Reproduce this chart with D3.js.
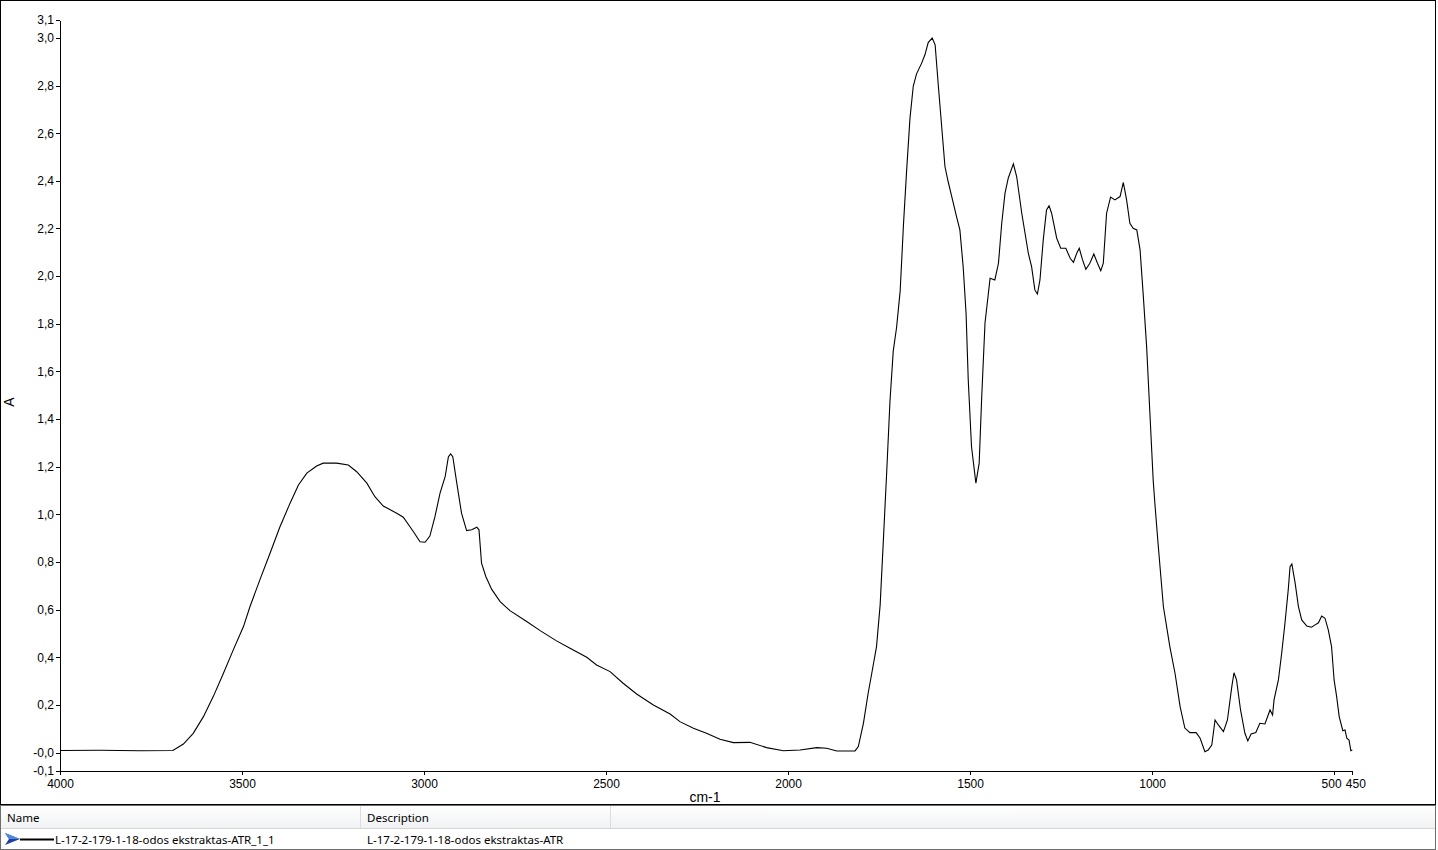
<!DOCTYPE html>
<html>
<head>
<meta charset="utf-8">
<script src="https://cdn.jsdelivr.net/npm/d3@7/dist/d3.min.js"></script>
<style>
  html, body { margin: 0; padding: 0; background: #fff; }
  svg { display: block; }
  .tick text { font-family: "Liberation Sans", Arial, sans-serif; font-size: 12px; fill: #000; }
  .panel text { font-family: "Noto Sans", "Open Sans", sans-serif; font-size: 11.5px; fill: #000; }
</style>
</head>
<body>
<svg id="chart" width="1438" height="850"></svg>
<script>
// ---- data (wavenumber cm-1, absorbance A) ----
const wavenumbers = [4000,3890,3780,3690,3661,3634,3606,3579,3551,3524,3496,3478,3451,3423,3396,3368,3345,3322,3295,3277,3240,3208,3185,3157,3135,3112,3075,3057,3029,3011,2997,2984,2970,2956,2942,2933,2927,2921,2910,2897,2883,2869,2855,2849,2842,2830,2814,2791,2764,2718,2681,2636,2599,2553,2526,2489,2453,2416,2370,2324,2297,2260,2224,2187,2150,2105,2059,2013,1967,1921,1894,1866,1816,1807,1793,1780,1770,1757,1747,1738,1729,1720,1711,1702,1692,1683,1674,1665,1656,1647,1633,1624,1615,1604,1596,1587,1578,1569,1560,1550,1537,1528,1519,1511,1505,1496,1484,1475,1468,1459,1445,1432,1422,1413,1404,1395,1381,1372,1358,1340,1331,1322,1315,1308,1299,1290,1283,1276,1262,1251,1237,1225,1216,1207,1200,1191,1182,1171,1160,1150,1141,1134,1125,1114,1102,1088,1079,1070,1061,1052,1042,1033,1024,1015,1006,997,992,983,969,951,937,923,910,896,879,868,855,846,836,827,818,804,793,781,775,768,757,745,737,728,715,704,690,676,669,665,653,644,635,626,621,616,607,598,589,575,562,552,543,534,525,516,507,500,493,486,476,470,465,459,454,450];
const absorbance = [0.009,0.010,0.008,0.009,0.036,0.081,0.151,0.235,0.333,0.431,0.529,0.613,0.725,0.837,0.947,1.047,1.123,1.173,1.203,1.215,1.215,1.207,1.179,1.131,1.074,1.035,1.005,0.988,0.927,0.885,0.883,0.909,0.990,1.089,1.158,1.242,1.254,1.242,1.131,1.005,0.932,0.935,0.946,0.935,0.795,0.738,0.685,0.634,0.596,0.550,0.512,0.469,0.438,0.400,0.368,0.340,0.291,0.246,0.200,0.162,0.130,0.102,0.081,0.056,0.042,0.043,0.021,0.008,0.011,0.021,0.018,0.007,0.007,0.025,0.123,0.249,0.333,0.445,0.620,0.897,1.178,1.476,1.686,1.783,1.938,2.215,2.450,2.664,2.798,2.849,2.894,2.929,2.980,2.999,2.971,2.796,2.628,2.460,2.395,2.332,2.249,2.194,2.040,1.844,1.564,1.284,1.131,1.215,1.494,1.802,1.991,1.984,2.054,2.222,2.348,2.412,2.471,2.418,2.264,2.096,2.040,1.942,1.925,1.984,2.152,2.278,2.295,2.264,2.159,2.117,2.117,2.075,2.058,2.096,2.117,2.068,2.029,2.054,2.093,2.054,2.023,2.054,2.264,2.332,2.320,2.334,2.393,2.320,2.222,2.201,2.194,2.110,1.914,1.704,1.424,1.144,1.039,0.867,0.613,0.443,0.333,0.193,0.103,0.084,0.084,0.060,0.004,0.011,0.032,0.137,0.116,0.088,0.137,0.277,0.335,0.305,0.179,0.081,0.049,0.078,0.084,0.123,0.120,0.179,0.158,0.221,0.305,0.417,0.543,0.683,0.780,0.792,0.711,0.613,0.557,0.531,0.526,0.536,0.545,0.573,0.564,0.515,0.445,0.305,0.235,0.151,0.092,0.095,0.060,0.053,0.008,0.011];

const xTickValues = [4000, 3500, 3000, 2500, 2000, 1500, 1000, 500, 450];
const yTickValues = [-0.076, 0, 0.2, 0.4, 0.6, 0.8, 1.0, 1.2, 1.4, 1.6, 1.8, 2.0, 2.2, 2.4, 2.6, 2.8, 3.0, 3.075];
const yTickLabels = ["-0,1", "-0,0", "0,2", "0,4", "0,6", "0,8", "1,0", "1,2", "1,4", "1,6", "1,8", "2,0", "2,2", "2,4", "2,6", "2,8", "3,0", "3,1"];
const xTitle = "cm-1";
const yTitle = "A";
const seriesName = "L-17-2-179-1-18-odos ekstraktas-ATR_1_1";
const seriesDesc = "L-17-2-179-1-18-odos ekstraktas-ATR";

// ---- layout ----
const svg = d3.select("#chart");
const plot = { left: 60, right: 1352.3, top: 20, bottom: 770.7 };

svg.append("rect").attr("x", 0.5).attr("y", 0.5).attr("width", 1435).attr("height", 804)
  .attr("fill", "#fff").attr("stroke", "#000").attr("shape-rendering", "crispEdges");

const x = d3.scaleLinear().domain([4000, 450]).range([plot.left, plot.right]);
const y = d3.scaleLinear().domain([-0.076, 3.075]).range([plot.bottom, plot.top]);

// y axis
const yAxis = d3.axisLeft(y).tickValues(yTickValues)
  .tickFormat((d, i) => yTickLabels[i]).tickSize(4).tickSizeOuter(0).tickPadding(2);
const gy = svg.append("g").attr("transform", `translate(${plot.left},0)`).call(yAxis);
gy.selectAll("path,line").attr("stroke", "#000").attr("shape-rendering", "crispEdges");

// x axis
const xAxis = d3.axisBottom(x).tickValues(xTickValues).tickFormat(d3.format("d"))
  .tickSize(4).tickSizeOuter(0).tickPadding(2);
const gx = svg.append("g").attr("transform", `translate(0,${Math.round(plot.bottom)})`).call(xAxis);
gx.selectAll("path,line").attr("stroke", "#000").attr("shape-rendering", "crispEdges");
gx.selectAll(".tick text").attr("dy", "0.95em")
  .attr("dx", d => d === 500 ? -3 : (d === 450 ? 3 : 0));

// titles
svg.append("text").attr("x", 705).attr("y", 802).attr("text-anchor", "middle")
  .style("font-family", "Liberation Sans, Arial, sans-serif").style("font-size", "14px").text(xTitle);
svg.append("text").attr("transform", "translate(14,402) rotate(-90)").attr("text-anchor", "middle")
  .style("font-family", "Liberation Sans, Arial, sans-serif").style("font-size", "14px").text(yTitle);

// spectrum line
const data = wavenumbers.map((w, i) => ({ w, a: absorbance[i] }));
const line = d3.line().x(d => x(d.w)).y(d => y(d.a));
svg.append("path").datum(data).attr("d", line)
  .attr("fill", "none").attr("stroke", "#000").attr("stroke-width", 1.1);

// ---- bottom panel (legend grid) ----
const panel = svg.append("g").attr("class", "panel");
const grad = svg.append("defs").append("linearGradient").attr("id", "hdr")
  .attr("x1", 0).attr("y1", 0).attr("x2", 0).attr("y2", 1);
grad.append("stop").attr("offset", "0%").attr("stop-color", "#ffffff");
grad.append("stop").attr("offset", "100%").attr("stop-color", "#f1f2f4");
panel.append("rect").attr("x", 0).attr("y", 805).attr("width", 1436).attr("height", 44)
  .attr("fill", "#fff");
panel.append("rect").attr("x", 1).attr("y", 806).attr("width", 1434).attr("height", 22)
  .attr("fill", "url(#hdr)");
panel.append("line").attr("x1", 0).attr("x2", 1436).attr("y1", 805.5).attr("y2", 805.5)
  .attr("stroke", "#6d6d6d").attr("shape-rendering", "crispEdges");
panel.append("line").attr("x1", 1).attr("x2", 1436).attr("y1", 828.5).attr("y2", 828.5)
  .attr("stroke", "#d5d5d5").attr("shape-rendering", "crispEdges");
panel.append("line").attr("x1", 0).attr("x2", 1436).attr("y1", 849.5).attr("y2", 849.5)
  .attr("stroke", "#6d6d6d").attr("shape-rendering", "crispEdges");
panel.append("line").attr("x1", 0.5).attr("x2", 0.5).attr("y1", 805).attr("y2", 850)
  .attr("stroke", "#6d6d6d").attr("shape-rendering", "crispEdges");
panel.append("line").attr("x1", 1435.5).attr("x2", 1435.5).attr("y1", 805).attr("y2", 850)
  .attr("stroke", "#6d6d6d").attr("shape-rendering", "crispEdges");
[360.5, 610.5].forEach(cx => {
  panel.append("line").attr("x1", cx).attr("x2", cx).attr("y1", 806).attr("y2", 828)
    .attr("stroke", "#dcdcdc").attr("shape-rendering", "crispEdges");
});
panel.append("text").attr("x", 7).attr("y", 822).text("Name");
panel.append("text").attr("x", 367).attr("y", 822).text("Description");

// legend row
panel.append("path").attr("d", "M5,833 L20,839 L5,845 L9,839 Z").attr("fill", "#1f3f9f");
panel.append("path").attr("d", "M5,833 L20,839 L9,839 Z").attr("fill", "#4a8ae0");
panel.append("line").attr("x1", 20).attr("x2", 54).attr("y1", 839.5).attr("y2", 839.5)
  .attr("stroke", "#000").attr("stroke-width", 2);
panel.append("text").attr("x", 55).attr("y", 844).text(seriesName);
panel.append("text").attr("x", 367).attr("y", 844).text(seriesDesc);
</script>
</body>
</html>
